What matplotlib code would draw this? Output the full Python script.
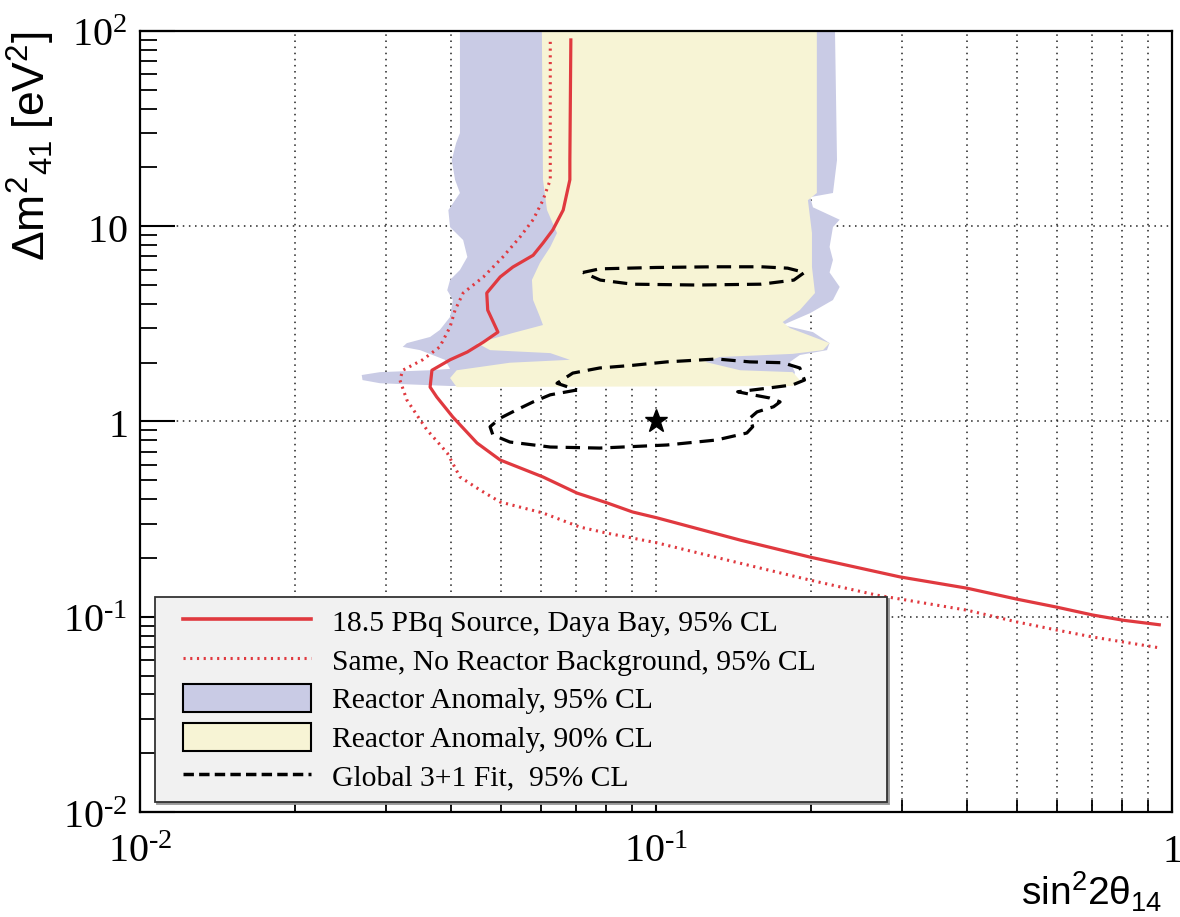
import matplotlib.pyplot as plt
import numpy as np
from matplotlib.lines import Line2D
from matplotlib.patches import Patch
from matplotlib.legend_handler import HandlerLine2D, HandlerPatch
from matplotlib.ticker import LogLocator, NullFormatter

plt.rcParams['mathtext.fontset'] = 'custom'
plt.rcParams['mathtext.rm'] = 'Liberation Serif'
plt.rcParams['mathtext.it'] = 'Liberation Serif:italic'
plt.rcParams['mathtext.sf'] = 'Liberation Sans'

# 18.5 PBq source, Daya Bay, 95% CL
src_x = [0.0684, 0.0681, 0.0681, 0.0661, 0.0631, 0.0604, 0.0578, 0.0528, 0.0499, 0.0470,
         0.0472, 0.0494, 0.0463, 0.0431, 0.0399, 0.0368, 0.0365, 0.0376, 0.0404, 0.0450,
         0.0499, 0.0604, 0.0703, 0.0804, 0.0901, 0.1005, 0.1456, 0.199, 0.297, 0.401,
         0.501, 0.598, 0.703, 0.804, 0.945]
src_y = [90, 21.8, 17.3, 12.1, 9.57, 8.2, 7.1, 6.18, 5.5, 4.55,
         3.72, 2.87, 2.55, 2.27, 2.07, 1.83, 1.50, 1.335, 1.054, 0.776,
         0.635, 0.520, 0.430, 0.383, 0.344, 0.321, 0.247, 0.202, 0.160, 0.140,
         0.123, 0.112, 0.102, 0.096, 0.091]

# same, no reactor background
nobg_x = [0.0624, 0.0624, 0.0624, 0.0604, 0.0578, 0.0545, 0.0505, 0.0463, 0.0423, 0.0408,
          0.0399, 0.0381, 0.0353, 0.0323, 0.0319, 0.0329, 0.0349, 0.0360, 0.0394, 0.0417,
          0.0456, 0.0499, 0.0604, 0.0712, 0.0804, 0.1005, 0.1456, 0.199, 0.268, 0.401,
          0.501, 0.598, 0.703, 0.949]
nobg_y = [88, 21.8, 17.3, 13.6, 10.8, 8.8, 6.96, 5.5, 4.55, 3.72,
          3.05, 2.41, 2.07, 1.83, 1.63, 1.29, 1.02, 0.905, 0.690, 0.520,
          0.446, 0.387, 0.340, 0.288, 0.268, 0.239, 0.188, 0.154, 0.129, 0.108,
          0.094, 0.0855, 0.0787, 0.0692]

# reactor anomaly 95% CL region
ra95_x = [0.0417, 0.2223, 0.2243, 0.2203, 0.199, 0.2015, 0.227, 0.2203, 0.217, 0.2203,
          0.217, 0.227, 0.2203, 0.199, 0.176, 0.2015, 0.217, 0.2145, 0.190, 0.1818,
          0.1859, 0.184, 0.1216, 0.0399, 0.0292, 0.0270, 0.0269, 0.0292, 0.0365, 0.0399,
          0.0390, 0.0349, 0.0323, 0.0329, 0.0365, 0.0381, 0.0399, 0.0404, 0.0394, 0.0399,
          0.0417, 0.0431, 0.0423, 0.0399, 0.0396, 0.0417, 0.0408, 0.0402, 0.0410, 0.0417]
ra95_y = [100, 100, 21.8, 14.8, 14.1, 12.5, 10.8, 9.9, 7.83, 6.72,
          5.8, 4.89, 4.19, 3.59, 3.12, 2.87, 2.52, 2.32, 2.19, 2.02,
          1.79, 1.57, 1.52, 1.52, 1.57, 1.63, 1.73, 1.79, 1.83, 1.86,
          2.07, 2.32, 2.41, 2.52, 2.71, 2.94, 3.43, 4.19, 4.7, 5.31,
          5.97, 6.96, 8.5, 9.9, 12.1, 14.8, 17.3, 21.8, 26.7, 30.0]

# reactor anomaly 90% CL region
ra90_x = [0.0601, 0.205, 0.205, 0.197, 0.2006, 0.2006, 0.2033, 0.190, 0.176, 0.1818,
          0.217, 0.2107, 0.184, 0.133, 0.1245, 0.1456, 0.184, 0.190, 0.184, 0.0411,
          0.0399, 0.0411, 0.0521, 0.0681, 0.0624, 0.0477, 0.0450, 0.0528, 0.0604, 0.0596,
          0.0578, 0.0575, 0.0596, 0.0624, 0.0643, 0.0615, 0.0604]
ra90_y = [100, 100, 14.8, 13.6, 9.23, 6.18, 4.55, 3.72, 3.23, 3.01,
          2.52, 2.32, 2.22, 2.14, 2.02, 1.83, 1.79, 1.63, 1.52, 1.50,
          1.67, 1.83, 2.00, 2.07, 2.24, 2.32, 2.52, 2.84, 3.12, 3.43,
          4.19, 5.31, 6.5, 7.83, 9.23, 12.1, 17.3]

# global 3+1 fit, 95% CL contours
fit_up_x = [0.0722, 0.0778, 0.10, 0.13, 0.16, 0.18, 0.194, 0.185, 0.16, 0.12, 0.09, 0.078, 0.0722]
fit_up_y = [5.8, 6.05, 6.15, 6.2, 6.2, 6.1, 5.8, 5.3, 5.05, 5.0, 5.05, 5.3, 5.8]
fit_lo_x = [0.0703, 0.0624, 0.0578, 0.0538, 0.0499, 0.0477, 0.0483, 0.0521, 0.0624, 0.0778,
            0.105, 0.131, 0.150, 0.154, 0.152, 0.157, 0.169, 0.174, 0.166, 0.154,
            0.144, 0.164, 0.184, 0.194, 0.190, 0.176, 0.152, 0.131, 0.105, 0.0902,
            0.0778, 0.0690, 0.0643, 0.0703]
fit_lo_y = [1.45, 1.37, 1.26, 1.15, 1.04, 0.94, 0.853, 0.785, 0.740, 0.731,
            0.758, 0.804, 0.873, 0.94, 1.04, 1.12, 1.19, 1.26, 1.32, 1.37,
            1.42, 1.48, 1.54, 1.63, 1.88, 2.00, 2.02, 2.09, 2.02, 1.94,
            1.88, 1.77, 1.57, 1.45]
best_fit = (0.1, 1.0)

blue = '#c9cbe5'
yellow = '#f7f4d5'
red = '#e0393f'
dots = (0, (0.7, 1.5))

fig = plt.figure(figsize=(11.8, 9.17), dpi=100)
ax = fig.add_axes([0.1186, 0.1145, 0.8746, 0.8517])
ax.set_xscale('log')
ax.set_yscale('log')
ax.set_xlim(0.01, 1)
ax.set_ylim(0.01, 100)

ax.set_axisbelow(True)
ax.grid(True, which='both', axis='x', ls=(0, (1, 3)), color='#222', lw=1.1)
ax.grid(True, which='major', axis='y', ls=(0, (1, 3)), color='#222', lw=1.1)

ax.fill(ra95_x, ra95_y, color=blue, lw=0, zorder=1)
ax.fill(ra90_x, ra90_y, color=yellow, lw=0, zorder=1.1)

ax.plot(fit_up_x, fit_up_y, color='black', lw=2.3, ls=(0, (4.5, 2.5)), zorder=3)
ax.plot(fit_lo_x, fit_lo_y, color='black', lw=2.3, ls=(0, (4.5, 2.5)), zorder=3)
ax.plot(nobg_x, nobg_y, color=red, lw=2.2, ls=dots, zorder=3)
ax.plot(src_x, src_y, color=red, lw=2.3, zorder=3)
ax.plot(*best_fit, marker='*', color='black', ms=17, zorder=4)

ax.set_yticks([0.01, 0.1, 1, 10, 100],
              labels=[r'$10^{\text{-}2}$', r'$10^{\text{-}1}$', r'$1$', r'$10$', r'$10^{2}$'])
ax.set_xticks([0.01, 0.1, 1],
              labels=[r'$10^{\text{-}2}$', r'$10^{\text{-}1}$', r'$1$'])
ax.xaxis.set_minor_locator(LogLocator(base=10, subs=np.arange(2, 10)))
ax.yaxis.set_minor_locator(LogLocator(base=10, subs=np.arange(2, 10)))
ax.xaxis.set_minor_formatter(NullFormatter())
ax.yaxis.set_minor_formatter(NullFormatter())

ax.tick_params(axis='y', which='major', direction='in', length=25, width=1.5, labelsize=29, pad=9)
ax.tick_params(axis='y', which='minor', direction='in', length=12, width=1.3)
ax.tick_params(axis='x', which='major', direction='in', length=16, width=1.5, labelsize=29, pad=14)
ax.tick_params(axis='x', which='minor', direction='in', length=9, width=1.3)
for s in ax.spines.values():
    s.set_linewidth(1.6)

ax.set_ylabel(r'$\mathsf{\Delta m^{2}{}_{41}\ [eV^{2}]}$', fontsize=32, loc='top')
ax.yaxis.set_label_coords(-0.08, 1.0)
ax.set_xlabel(r'$\mathsf{sin^{2}2\theta_{14}}$', fontsize=28, loc='right')
ax.xaxis.set_label_coords(0.991, -0.074)

handles = [
    Line2D([], [], color=red, lw=2.6),
    Line2D([], [], color=red, lw=2.2, ls=dots),
    Patch(facecolor=blue, edgecolor='black', lw=1.5),
    Patch(facecolor=yellow, edgecolor='black', lw=1.5),
    Line2D([], [], color='black', lw=2.5, ls=(0, (3, 1.5))),
]
labels = ['18.5 PBq Source, Daya Bay, 95% CL',
          'Same, No Reactor Background, 95% CL',
          'Reactor Anomaly, 95% CL',
          'Reactor Anomaly, 90% CL',
          'Global 3+1 Fit,  95% CL']
hmap = {Line2D: HandlerLine2D(xpad=0.6), Patch: HandlerPatch(xpad=0.6)}
leg = ax.legend(handles, labels, loc='lower left', bbox_to_anchor=(0.0145, 0.0128, 0.709, 0.26),
                mode='expand', borderaxespad=0, handler_map=hmap,
                prop={'family': 'Liberation Serif', 'size': 21.3},
                handlelength=4.92, handleheight=1.05, handletextpad=0.71, labelspacing=0.3,
                borderpad=0.35, fancybox=False, framealpha=1,
                shadow={'ox': 1.5, 'oy': -1.5, 'color': '0.6', 'alpha': 1})
leg.get_frame().set_facecolor('#f1f1f1')
leg.get_frame().set_edgecolor('#333333')
leg.get_frame().set_linewidth(1.3)
leg.set_zorder(5)

fig.savefig('out.png', dpi=100)
